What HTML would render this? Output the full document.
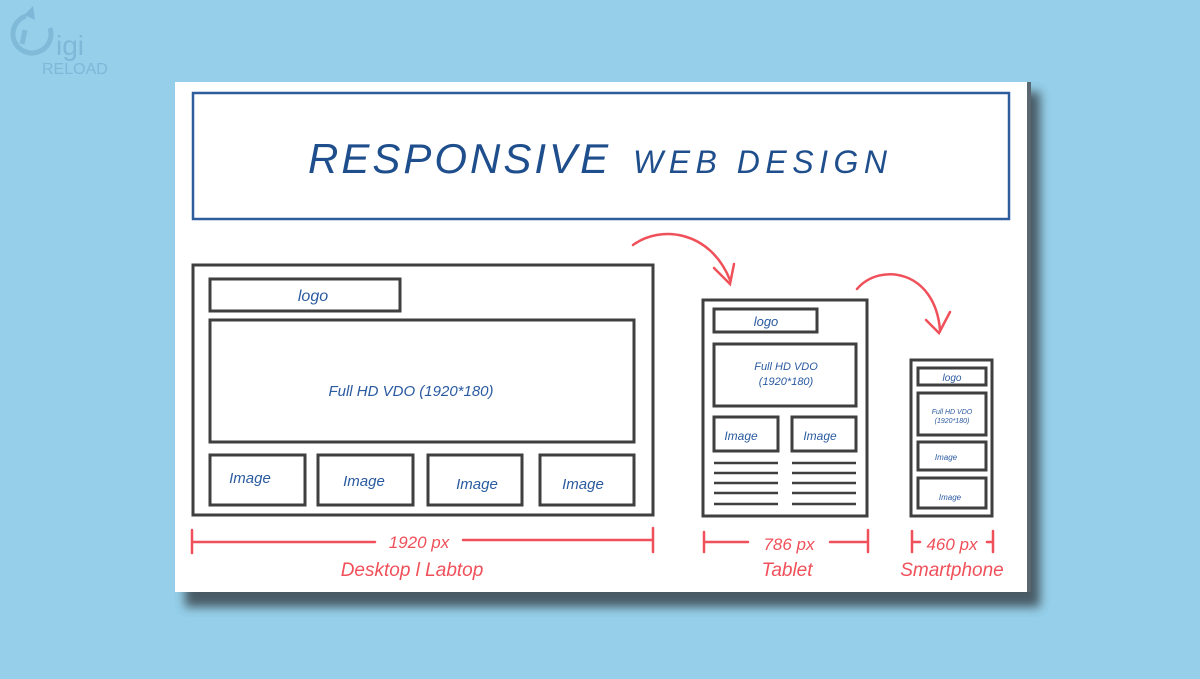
<!DOCTYPE html>
<html><head><meta charset="utf-8"><style>
body{margin:0;width:1200px;height:674px;background:#95cfe9;overflow:hidden;font-family:"Liberation Sans",sans-serif}
</style></head><body>
<svg width="1200" height="674" viewBox="0 0 1200 674" xmlns="http://www.w3.org/2000/svg" font-family="Liberation Sans, sans-serif">
<defs><filter id="b" x="-10%" y="-10%" width="130%" height="130%"><feGaussianBlur stdDeviation="5"/></filter></defs>
<!-- logo -->
<g fill="none" stroke="#7db8d8" stroke-width="5" opacity="0.9">
<path d="M26 16 A19 19 0 1 0 50 28"/><path d="M25 30 L22 44"/></g>
<path d="M33 6 L24 15 L35 20 Z" fill="#7db8d8"/>
<text x="56" y="55" font-size="28" fill="#7db8d8">igi</text>
<text x="42" y="74" font-size="16" fill="#7db8d8">RELOAD</text>
<!-- card shadow -->
<rect x="185" y="92" width="855" height="515" fill="#3a4650" filter="url(#b)" opacity="0.85"/>
<rect x="175" y="82" width="855" height="510" fill="#fff"/>
<rect x="1027" y="82" width="4" height="510" fill="#5a6670"/>
<!-- title -->
<rect x="193" y="93" width="816" height="126" fill="none" stroke="#2f5c9a" stroke-width="2.5"/>
<text x="308" y="173" font-size="42" fill="#1f4e8c" font-style="italic" letter-spacing="3">RESPONSIVE</text>
<text x="633" y="173" font-size="32" fill="#1f4e8c" font-style="italic" letter-spacing="5.5">WEB DESIGN</text>
<g fill="none" stroke="#3f3f3f" stroke-width="3">
<rect x="193" y="265" width="460" height="250"/>
<rect x="210" y="279" width="190" height="32"/>
<rect x="210" y="320" width="424" height="122"/>
<rect x="210" y="455" width="95" height="50"/>
<rect x="318" y="455" width="95" height="50"/>
<rect x="428" y="455" width="94" height="50"/>
<rect x="540" y="455" width="94" height="50"/>
<rect x="703" y="300" width="164" height="216"/>
<rect x="714" y="309" width="103" height="23"/>
<rect x="714" y="344" width="142" height="62"/>
<rect x="714" y="417" width="64" height="34"/>
<rect x="792" y="417" width="64" height="34"/>
<rect x="911" y="360" width="81" height="156"/>
<rect x="918" y="368" width="68" height="17"/>
<rect x="918" y="393" width="68" height="42"/>
<rect x="918" y="442" width="68" height="28"/>
<rect x="918" y="478" width="68" height="30"/>
</g>
<g stroke="#3f3f3f" stroke-width="2.5">
<path d="M714 463H778M714 473H778M714 483H778M714 493H778M714 504H778M792 463H856M792 473H856M792 483H856M792 493H856M792 504H856"/>
</g>
<g fill="#2a5aa0" font-style="italic">
<text x="313" y="301" font-size="16" text-anchor="middle">logo</text>
<text x="411" y="396" font-size="15" text-anchor="middle">Full HD VDO (1920*180)</text>
<text x="250" y="483" font-size="15" text-anchor="middle">Image</text>
<text x="364" y="486" font-size="15" text-anchor="middle">Image</text>
<text x="477" y="489" font-size="15" text-anchor="middle">Image</text>
<text x="583" y="489" font-size="15" text-anchor="middle">Image</text>
<text x="766" y="326" font-size="13" text-anchor="middle">logo</text>
<text x="786" y="370" font-size="11" text-anchor="middle">Full HD VDO</text>
<text x="786" y="385" font-size="11" text-anchor="middle">(1920*180)</text>
<text x="741" y="440" font-size="12" text-anchor="middle">Image</text>
<text x="820" y="440" font-size="12" text-anchor="middle">Image</text>
<text x="952" y="381" font-size="10" text-anchor="middle">logo</text>
<text x="952" y="414" font-size="7" text-anchor="middle">Full HD VDO</text>
<text x="952" y="423" font-size="7" text-anchor="middle">(1920*180)</text>
<text x="946" y="460" font-size="8" text-anchor="middle">Image</text>
<text x="950" y="500" font-size="8" text-anchor="middle">Image</text>
</g>
<g fill="none" stroke="#f0505a" stroke-width="2.5" stroke-linecap="round">
<path d="M633 245 C660 225 710 230 730 280"/><path d="M714 268 L730 284 L734 264"/>
<path d="M857 289 C880 262 935 270 940 330"/><path d="M926 320 L939 333 L950 312"/>
<path d="M192 530V553M192 542H375M463 540H653M653 528V552"/>
<path d="M704 532V552M704 542H748M830 542H866M868 530V552"/>
<path d="M912 531V552M912 542H920M987 542H992M993 531V552"/>
</g>
<g fill="#f0505a" font-style="italic" text-anchor="middle">
<text x="419" y="548" font-size="17">1920 px</text>
<text x="412" y="576" font-size="19">Desktop l Labtop</text>
<text x="789" y="550" font-size="17">786 px</text>
<text x="787" y="576" font-size="19">Tablet</text>
<text x="952" y="550" font-size="17">460 px</text>
<text x="952" y="576" font-size="19">Smartphone</text>
</g>
</svg>
</body></html>
